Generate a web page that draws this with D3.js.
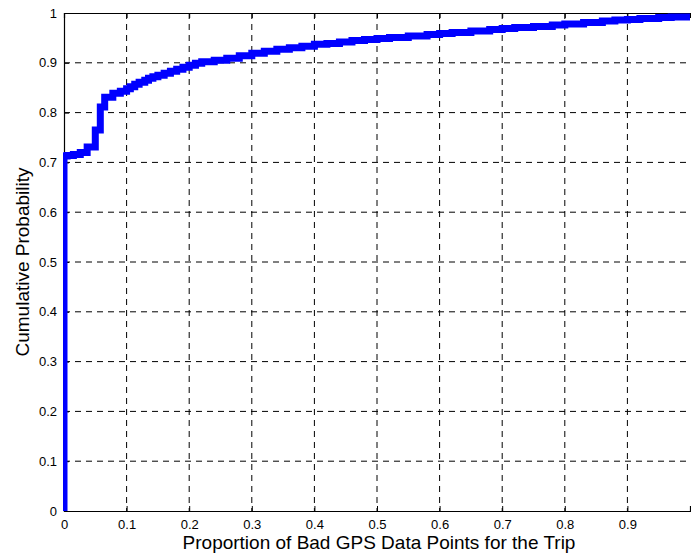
<!DOCTYPE html>
<html>
<head>
<meta charset="utf-8">
<script src="https://cdn.jsdelivr.net/npm/d3@7"></script>
<style>
  body { margin: 0; background: #fff; }
  svg { display: block; font-family: "Liberation Sans", Arial, sans-serif; }
</style>
</head>
<body>
<div id="chart"></div>
<script>
var propBad = [0, 0, 0.005, 0.015, 0.026, 0.037, 0.05, 0.058, 0.065, 0.078, 0.09,
  0.1, 0.106, 0.113, 0.12, 0.129, 0.135, 0.142, 0.15, 0.16, 0.17, 0.18, 0.19,
  0.2, 0.21, 0.22, 0.24, 0.26, 0.28, 0.3, 0.32, 0.34, 0.36, 0.38,
  0.4, 0.42, 0.44, 0.46, 0.48, 0.5, 0.52, 0.55, 0.58, 0.6, 0.62, 0.65, 0.68,
  0.7, 0.72, 0.75, 0.78, 0.8, 0.83, 0.86, 0.88, 0.9, 0.92, 0.95, 0.97, 1.0];
var cumProb = [0, 0.713, 0.714, 0.716, 0.72, 0.731, 0.765, 0.811, 0.831, 0.839, 0.843,
  0.848, 0.852, 0.857, 0.861, 0.865, 0.869, 0.872, 0.875, 0.879, 0.883, 0.887, 0.891,
  0.895, 0.899, 0.902, 0.905, 0.909, 0.914, 0.919, 0.923, 0.927, 0.93, 0.933,
  0.937, 0.939, 0.942, 0.945, 0.947, 0.949, 0.951, 0.954, 0.957, 0.959, 0.961, 0.964, 0.967,
  0.969, 0.971, 0.973, 0.976, 0.978, 0.981, 0.984, 0.986, 0.987, 0.989, 0.991, 0.992, 0.993];
var xTicks = [0, 0.1, 0.2, 0.3, 0.4, 0.5, 0.6, 0.7, 0.8, 0.9];
var yTicks = [0, 0.1, 0.2, 0.3, 0.4, 0.5, 0.6, 0.7, 0.8, 0.9, 1];
var xLabel = 'Proportion of Bad GPS Data Points for the Trip';
var yLabel = 'Cumulative Probability';

var width = 691,
    height = 554,
    margin = {top: 13, right: 1, bottom: 43, left: 64},
    drawWidth = width - margin.left - margin.right,
    drawHeight = height - margin.top - margin.bottom;

var svg = d3.select('#chart')
  .append('svg')
  .attr('width', width)
  .attr('height', height);

var g = svg.append('g')
  .attr('transform', 'translate(' + margin.left + ',' + margin.top + ')');

var x = d3.scaleLinear().domain([0, 1]).range([0, drawWidth]);
var y = d3.scaleLinear().domain([0, 1]).range([drawHeight, 0]);

// grid
g.selectAll('.vgrid')
  .data(xTicks.filter(function(d) { return d > 0; }))
  .enter().append('line')
  .attr('x1', function(d) { return x(d); })
  .attr('x2', function(d) { return x(d); })
  .attr('y1', 0).attr('y2', drawHeight)
  .attr('stroke', '#000').attr('stroke-width', 1)
  .attr('stroke-dasharray', '6,5');

g.selectAll('.hgrid')
  .data(yTicks.filter(function(d) { return d > 0 && d < 1; }))
  .enter().append('line')
  .attr('x1', 0).attr('x2', drawWidth)
  .attr('y1', function(d) { return y(d); })
  .attr('y2', function(d) { return y(d); })
  .attr('stroke', '#000').attr('stroke-width', 1)
  .attr('stroke-dasharray', '6,5');

// axes, ticks pointing inward
var xAxis = g.append('g')
  .attr('transform', 'translate(0,' + drawHeight + ')')
  .call(d3.axisBottom(x).tickValues(xTicks).tickSize(-5).tickPadding(9)
    .tickFormat(function(d) { return d; }));

var xTop = g.append('g')
  .call(d3.axisTop(x).tickValues(xTicks).tickSize(-5).tickFormat(''));

var yAxis = g.append('g')
  .call(d3.axisLeft(y).tickValues(yTicks).tickSize(-5).tickPadding(7)
    .tickFormat(function(d) { return d; }));

[xAxis, xTop, yAxis].forEach(function(a) {
  a.select('.domain').attr('stroke', '#000').attr('stroke-width', 1.2);
  a.selectAll('.tick line').attr('stroke', '#000');
  a.selectAll('text').attr('font-size', 13).attr('fill', '#000')
    .attr('font-family', '"Liberation Sans", Arial, sans-serif');
});

// curve clipped to the plot box
svg.append('clipPath').attr('id', 'plotClip')
  .append('rect')
  .attr('x', -1).attr('y', 0)
  .attr('width', drawWidth + 1).attr('height', drawHeight);

var pts = propBad.map(function(d, i) { return [d, cumProb[i]]; });

var line = d3.line()
  .x(function(d) { return x(d[0]); })
  .y(function(d) { return y(d[1]); })
  .curve(d3.curveStepAfter);

g.append('path')
  .datum(pts)
  .attr('clip-path', 'url(#plotClip)')
  .attr('d', line)
  .attr('fill', 'none')
  .attr('stroke', '#0000ff')
  .attr('stroke-width', 7)
  .attr('stroke-linejoin', 'miter');

// labels
svg.append('text')
  .attr('x', margin.left + drawWidth / 2 + 2)
  .attr('y', 549)
  .attr('text-anchor', 'middle')
  .attr('font-size', 19)
  .text(xLabel);

svg.append('text')
  .attr('transform', 'translate(29,' + (margin.top + drawHeight / 2) + ') rotate(-90)')
  .attr('text-anchor', 'middle')
  .attr('font-size', 19)
  .text(yLabel);
</script>
</body>
</html>
